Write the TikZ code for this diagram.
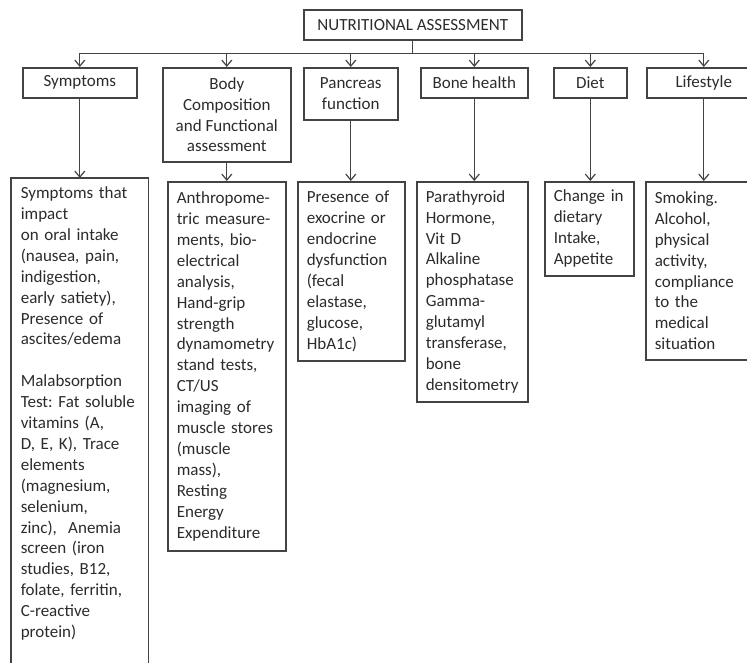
\documentclass[tikz,border=0pt]{standalone}
\usepackage{fontspec}
\setmainfont{Carlito}
\usepackage{tikz}
\usetikzlibrary{arrows.meta}
\definecolor{ink}{RGB}{45,42,42}
\definecolor{edge}{RGB}{70,66,66}
\hyphenpenalty=10000
\exhyphenpenalty=10000
\frenchspacing

\begin{document}
\begin{tikzpicture}[x=1pt,y=-1pt,
  box/.style={draw=edge,line width=1.6pt,text=ink,font=\fontsize{17}{20.9}\selectfont,anchor=north west,inner sep=0pt},
  head/.style={box,align=center},
  info/.style={box,align=left,inner xsep=9pt},
  conn/.style={draw=edge,line width=1.2pt,-{Straight Barb[length=6pt,width=10pt]}}]
\useasboundingbox (0,0) rectangle (747,663);
\clip (0,0) rectangle (747,663);

% top row
\node[head,minimum width=218pt,minimum height=30pt] (title) at (303,9) {NUTRITIONAL ASSESSMENT};
\node[head,minimum width=114pt,minimum height=30pt] (sym) at (22,67) {Symptoms};
\node[head,minimum width=128pt,minimum height=94pt] (body) at (162,67) {Body\\Composition\\and Functional\\assessment};
\node[head,minimum width=94pt,minimum height=52pt] (panc) at (303,67) {Pancreas\\function};
\node[head,minimum width=107pt,minimum height=30pt] (bone) at (420,67) {Bone health};
\node[head,minimum width=73pt,minimum height=30pt] (diet) at (553,67) {Diet};
\node[head,minimum width=114pt,minimum height=30pt] (life) at (646,67) {Lifestyle};

% details
\node[info,draw=none,inner ysep=8pt,text width=118pt] (symd) at (11,178) {Symptoms that\\impact\\on oral intake\\(nausea, pain,\\indigestion,\\early satiety),\\Presence of\\ascites/edema\\[20.9pt]Malabsorption\\Test: Fat soluble\\vitamins (A,\\D, E, K), Trace\\elements\\(magnesium,\\selenium,\\zinc),\ \ Anemia\\screen (iron\\studies, B12,\\folate, ferritin,\\C-reactive\\protein)};
\draw[edge,line width=1.6pt] ([yshift=-40pt]symd.south west) -- (symd.north west) -- (symd.north east) -- ([yshift=-40pt]symd.south east);
\node[info,text width=100pt,minimum height=369pt] (bodyd) at (167,181) {Anthropome-\\tric measure-\\ments, bio-\\electrical\\analysis,\\Hand-grip\\strength\\dynamometry\\stand tests,\\CT/US\\imaging of\\muscle stores\\(muscle\\mass),\\Resting\\Energy\\Expenditure};
\node[info,text width=89pt,minimum height=179pt] (pancd) at (297,181) {Presence of\\exocrine or\\endocrine\\dysfunction\\(fecal\\elastase,\\glucose,\\HbA1c)};
\node[info,text width=93pt,minimum height=220pt] (boned) at (416,181) {Parathyroid\\Hormone,\\Vit D\\Alkaline\\phosphatase\\Gamma-\\glutamyl\\transferase,\\bone\\densitometry};
\node[info,text width=71pt,minimum height=94pt] (dietd) at (544,181) {Change in\\dietary\\Intake,\\Appetite};
\node[info,text width=97pt,minimum height=178pt] (lifed) at (645,181) {Smoking.\\Alcohol,\\physical\\activity,\\compliance\\to the\\medical\\situation};

% connectors
\foreach \n in {sym,body,panc,bone,diet,life}
  \draw[conn] (title.south) -- ++(0,13) -| (\n.north);
\foreach \a/\b in {sym/symd,body/bodyd,panc/pancd,bone/boned,diet/dietd,life/lifed}
  \draw[conn] (\a.south) -- (\a.south |- \b.north);
\end{tikzpicture}
\end{document}
